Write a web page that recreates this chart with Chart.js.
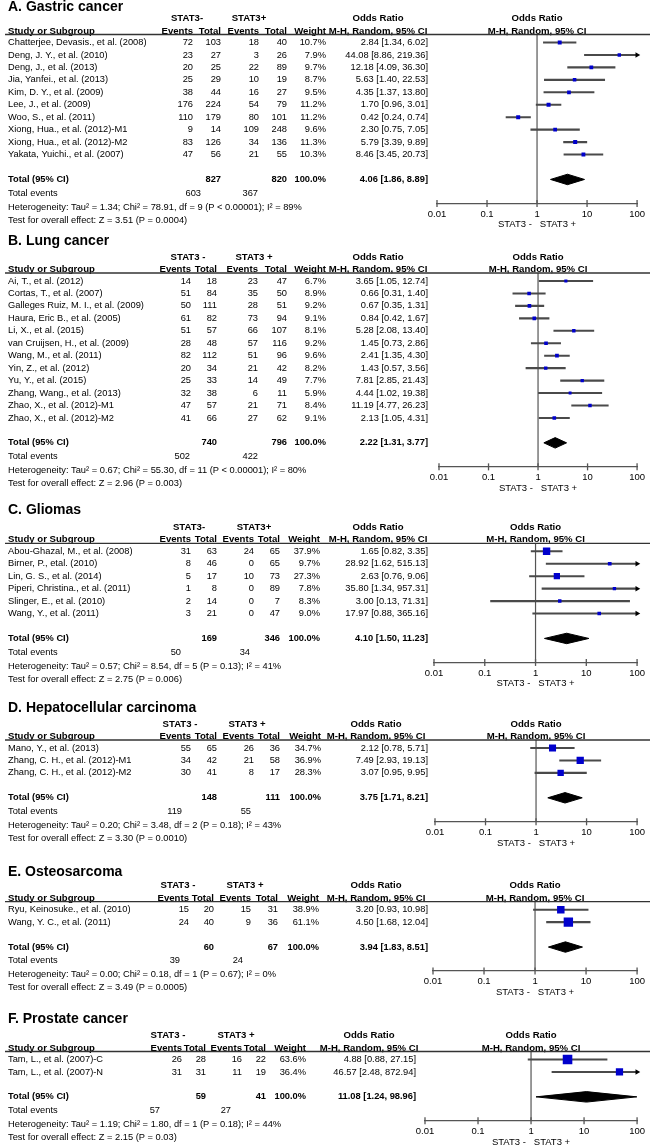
<!DOCTYPE html>
<html>
<head>
<meta charset="utf-8">
<script src="https://cdn.jsdelivr.net/npm/chart.js@4.4.1/dist/chart.umd.min.js"></script>
<style>
  html, body { margin: 0; padding: 0; background: #fff; }
  #page { position: relative; width: 650px; height: 1146px; overflow: hidden; }
  #page canvas { position: absolute; left: 0; }
</style>
</head>
<body>
<div id="page"></div>
<script>
const FONT = "'Liberation Sans', Arial, Helvetica, sans-serif";
const axisTicks = [0.01, 0.1, 1, 10, 100];
const axisTitle = 'STAT3 -   STAT3 +';

// rows: study, events-, total-, events+, total+, weight %, OR, lower, upper
const gastricRows = [
  ['Chatterjee, Devasis., et al. (2008)', 72, 103, 18, 40, 10.7, 2.84, 1.34, 6.02],
  ['Deng, J. Y., et al. (2010)', 23, 27, 3, 26, 7.9, 44.08, 8.86, 219.36],
  ['Deng, J., et al. (2013)', 20, 25, 22, 89, 9.7, 12.18, 4.09, 36.30],
  ['Jia, Yanfei., et al. (2013)', 25, 29, 10, 19, 8.7, 5.63, 1.40, 22.53],
  ['Kim, D. Y., et al. (2009)', 38, 44, 16, 27, 9.5, 4.35, 1.37, 13.80],
  ['Lee, J., et al. (2009)', 176, 224, 54, 79, 11.2, 1.70, 0.96, 3.01],
  ['Woo, S., et al. (2011)', 110, 179, 80, 101, 11.2, 0.42, 0.24, 0.74],
  ['Xiong, Hua., et al. (2012)-M1', 9, 14, 109, 248, 9.6, 2.30, 0.75, 7.05],
  ['Xiong, Hua., et al. (2012)-M2', 83, 126, 34, 136, 11.3, 5.79, 3.39, 9.89],
  ['Yakata, Yuichi., et al. (2007)', 47, 56, 21, 55, 10.3, 8.46, 3.45, 20.73]
];
// total-, total+, weight, OR, lower, upper
const gastricTotal = [827, 820, 100.0, 4.06, 1.86, 8.89];
const gastricEvents = [603, 367];
const gastricNotes = [
  'Heterogeneity: Tau\u00b2 = 1.34; Chi\u00b2 = 78.91, df = 9 (P < 0.00001); I\u00b2 = 89%',
  'Test for overall effect: Z = 3.51 (P = 0.0004)'
];

const lungRows = [
  ['Ai, T., et al. (2012)', 14, 18, 23, 47, 6.7, 3.65, 1.05, 12.74],
  ['Cortas, T., et al. (2007)', 51, 84, 35, 50, 8.9, 0.66, 0.31, 1.40],
  ['Galleges Ruiz, M. I., et al. (2009)', 50, 111, 28, 51, 9.2, 0.67, 0.35, 1.31],
  ['Haura, Eric B., et al. (2005)', 61, 82, 73, 94, 9.1, 0.84, 0.42, 1.67],
  ['Li, X., et al. (2015)', 51, 57, 66, 107, 8.1, 5.28, 2.08, 13.40],
  ['van Cruijsen, H., et al. (2009)', 28, 48, 57, 116, 9.2, 1.45, 0.73, 2.86],
  ['Wang, M., et al. (2011)', 82, 112, 51, 96, 9.6, 2.41, 1.35, 4.30],
  ['Yin, Z., et al. (2012)', 20, 34, 21, 42, 8.2, 1.43, 0.57, 3.56],
  ['Yu, Y., et al. (2015)', 25, 33, 14, 49, 7.7, 7.81, 2.85, 21.43],
  ['Zhang, Wang., et al. (2013)', 32, 38, 6, 11, 5.9, 4.44, 1.02, 19.38],
  ['Zhao, X., et al. (2012)-M1', 47, 57, 21, 71, 8.4, 11.19, 4.77, 26.23],
  ['Zhao, X., et al. (2012)-M2', 41, 66, 27, 62, 9.1, 2.13, 1.05, 4.31]
];
const lungTotal = [740, 796, 100.0, 2.22, 1.31, 3.77];
const lungEvents = [502, 422];
const lungNotes = [
  'Heterogeneity: Tau\u00b2 = 0.67; Chi\u00b2 = 55.30, df = 11 (P < 0.00001); I\u00b2 = 80%',
  'Test for overall effect: Z = 2.96 (P = 0.003)'
];

const gliomaRows = [
  ['Abou-Ghazal, M., et al. (2008)', 31, 63, 24, 65, 37.9, 1.65, 0.82, 3.35],
  ['Birner, P., etal. (2010)', 8, 46, 0, 65, 9.7, 28.92, 1.62, 515.13],
  ['Lin, G. S., et al. (2014)', 5, 17, 10, 73, 27.3, 2.63, 0.76, 9.06],
  ['Piperi, Christina., et al. (2011)', 1, 8, 0, 89, 7.8, 35.80, 1.34, 957.31],
  ['Slinger, E., et al. (2010)', 2, 14, 0, 7, 8.3, 3.00, 0.13, 71.31],
  ['Wang, Y., et al. (2011)', 3, 21, 0, 47, 9.0, 17.97, 0.88, 365.16]
];
const gliomaTotal = [169, 346, 100.0, 4.10, 1.50, 11.23];
const gliomaEvents = [50, 34];
const gliomaNotes = [
  'Heterogeneity: Tau\u00b2 = 0.57; Chi\u00b2 = 8.54, df = 5 (P = 0.13); I\u00b2 = 41%',
  'Test for overall effect: Z = 2.75 (P = 0.006)'
];

const liverRows = [
  ['Mano, Y., et al. (2013)', 55, 65, 26, 36, 34.7, 2.12, 0.78, 5.71],
  ['Zhang, C. H., et al. (2012)-M1', 34, 42, 21, 58, 36.9, 7.49, 2.93, 19.13],
  ['Zhang, C. H., et al. (2012)-M2', 30, 41, 8, 17, 28.3, 3.07, 0.95, 9.95]
];
const liverTotal = [148, 111, 100.0, 3.75, 1.71, 8.21];
const liverEvents = [119, 55];
const liverNotes = [
  'Heterogeneity: Tau\u00b2 = 0.20; Chi\u00b2 = 3.48, df = 2 (P = 0.18); I\u00b2 = 43%',
  'Test for overall effect: Z = 3.30 (P = 0.0010)'
];

const boneRows = [
  ['Ryu, Keinosuke., et al. (2010)', 15, 20, 15, 31, 38.9, 3.20, 0.93, 10.98],
  ['Wang, Y. C., et al. (2011)', 24, 40, 9, 36, 61.1, 4.50, 1.68, 12.04]
];
const boneTotal = [60, 67, 100.0, 3.94, 1.83, 8.51];
const boneEvents = [39, 24];
const boneNotes = [
  'Heterogeneity: Tau\u00b2 = 0.00; Chi\u00b2 = 0.18, df = 1 (P = 0.67); I\u00b2 = 0%',
  'Test for overall effect: Z = 3.49 (P = 0.0005)'
];

const prostateRows = [
  ['Tam, L., et al. (2007)-C', 26, 28, 16, 22, 63.6, 4.88, 0.88, 27.15],
  ['Tam, L., et al. (2007)-N', 31, 31, 11, 19, 36.4, 46.57, 2.48, 872.94]
];
const prostateTotal = [59, 41, 100.0, 11.08, 1.24, 98.96];
const prostateEvents = [57, 27];
const prostateNotes = [
  'Heterogeneity: Tau\u00b2 = 1.19; Chi\u00b2 = 1.80, df = 1 (P = 0.18); I\u00b2 = 44%',
  'Test for overall effect: Z = 2.15 (P = 0.03)'
];

// page layout for each panel (pixels)
const panels = [
  { title: 'A. Gastric cancer', groups: ['STAT3-', 'STAT3+'], rows: gastricRows, total: gastricTotal, events: gastricEvents, notes: gastricNotes,
    box: { top: 0, title: 7.5, rule: 34.5, left: 437, right: 641, cols: [193, 221, 259, 287, 326, 428], groupX: [187, 249], eventsX: [201, 258], orX: 378 } },
  { title: 'B. Lung cancer', groups: ['STAT3 -', 'STAT3 +'], rows: lungRows, total: lungTotal, events: lungEvents, notes: lungNotes,
    box: { top: 231, title: 241, rule: 273, left: 439, right: 641, cols: [191, 217, 258, 287, 326, 428], groupX: [188, 254], eventsX: [190, 258], orX: 378 } },
  { title: 'C. Gliomas', groups: ['STAT3-', 'STAT3+'], rows: gliomaRows, total: gliomaTotal, events: gliomaEvents, notes: gliomaNotes,
    box: { top: 500, title: 510, rule: 543.3, left: 434, right: 640, cols: [191, 217, 254, 280, 320, 428], groupX: [189, 254], eventsX: [181, 250], orX: 378 } },
  { title: 'D. Hepatocellular carcinoma', groups: ['STAT3 -', 'STAT3 +'], rows: liverRows, total: liverTotal, events: liverEvents, notes: liverNotes,
    box: { top: 698, title: 708.3, rule: 740, left: 435, right: 640, cols: [191, 217, 254, 280, 321, 428], groupX: [180, 247], eventsX: [182, 251], orX: 376 } },
  { title: 'E. Osteosarcoma', groups: ['STAT3 -', 'STAT3 +'], rows: boneRows, total: boneTotal, events: boneEvents, notes: boneNotes,
    box: { top: 861, title: 871.7, rule: 901.7, left: 433, right: 640, cols: [189, 214, 251, 278, 319, 428], groupX: [178, 245], eventsX: [180, 243], orX: 376 } },
  { title: 'F. Prostate cancer', groups: ['STAT3 -', 'STAT3 +'], rows: prostateRows, total: prostateTotal, events: prostateEvents, notes: prostateNotes,
    box: { top: 1009, title: 1019.5, rule: 1051.5, left: 425, right: 640, cols: [182, 206, 242, 266, 306, 416], groupX: [168, 236], eventsX: [160, 231], orX: 369 } }
];

const PITCH = 12.45;     // row height
const AXIS_H = 27;       // height of x axis box
const BLUE = '#0000cc';
const LINE = '#4a4a4a';

const orText = (or, lo, hi) => `${or.toFixed(2)} [${lo.toFixed(2)}, ${hi.toFixed(2)}]`;

function tablePlugin(p) {
  return {
    id: 'table',
    afterDraw(chart) {
      const ctx = chart.ctx, b = p.box;
      const ys = chart.scales.y, xs = chart.scales.x;
      const top = chart.chartArea.top;
      const x1 = xs.getPixelForValue(1);
      const text = (s, x, y, align, bold, size) => {
        ctx.font = `${bold ? 'bold ' : ''}${size || 9.3}px ${FONT}`;
        ctx.textAlign = align;
        ctx.fillText(s, x, y);
      };
      ctx.save();
      ctx.fillStyle = '#000';
      ctx.textBaseline = 'middle';

      text(p.title, 8, b.title - b.top, 'left', true, 14);

      const h1 = top - 16, h2 = top - 3.5;
      text(p.groups[0], b.groupX[0], h1, 'center', true, 9.6);
      text(p.groups[1], b.groupX[1], h1, 'center', true, 9.6);
      text('Odds Ratio', b.orX, h1, 'center', true, 9.6);
      text('Odds Ratio', x1, h1, 'center', true, 9.6);
      text('Study or Subgroup', 8, h2, 'left', true, 9.6);
      ['Events', 'Total', 'Events', 'Total', 'Weight'].forEach((s, k) => text(s, b.cols[k], h2, 'right', true, 9.6));
      text('M-H, Random, 95% CI', b.orX, h2, 'center', true, 9.6);
      text('M-H, Random, 95% CI', x1, h2, 'center', true, 9.6);

      ctx.strokeStyle = '#333';
      ctx.lineWidth = 1.3;
      ctx.beginPath();
      ctx.moveTo(5, top);
      ctx.lineTo(650, top);
      ctx.stroke();

      p.rows.forEach((r, i) => {
        const y = ys.getPixelForValue(i);
        text(r[0], 8, y, 'left');
        for (let k = 0; k < 4; k++) text(String(r[k + 1]), b.cols[k], y, 'right');
        text(r[5].toFixed(1) + '%', b.cols[4], y, 'right');
        text(orText(r[6], r[7], r[8]), b.cols[5], y, 'right');
      });

      const t = p.total;
      const ty = ys.getPixelForValue(p.rows.length + 1);
      text('Total (95% CI)', 8, ty, 'left', true);
      text(String(t[0]), b.cols[1], ty, 'right', true);
      text(String(t[1]), b.cols[3], ty, 'right', true);
      text(t[2].toFixed(1) + '%', b.cols[4], ty, 'right', true);
      text(orText(t[3], t[4], t[5]), b.cols[5], ty, 'right', true);

      text('Total events', 8, ty + 13.5, 'left');
      text(String(p.events[0]), b.eventsX[0], ty + 13.5, 'right');
      text(String(p.events[1]), b.eventsX[1], ty + 13.5, 'right');
      text(p.notes[0], 8, ty + 27.5, 'left');
      text(p.notes[1], 8, ty + 40.5, 'left');
      ctx.restore();
    }
  };
}

const page = document.getElementById('page');

panels.forEach(p => {
  const b = p.box, n = p.rows.length;
  const totalRow = n + 1;
  const yMin = -8 / PITCH;
  const yMax = totalRow + 24 / PITCH;
  const axisY = b.rule + (yMax - yMin) * PITCH;
  const xMax = axisTicks[axisTicks.length - 1];

  const canvas = document.createElement('canvas');
  canvas.width = 650;
  canvas.height = Math.ceil(axisY - b.top + AXIS_H + 2);
  canvas.style.top = b.top + 'px';
  page.appendChild(canvas);

  const t = p.total, dh = 0.42;

  new Chart(canvas, {
    type: 'scatter',
    data: {
      datasets: [
        { // confidence intervals
          type: 'bar', indexAxis: 'y', order: 4,
          data: p.rows.map((r, i) => ({ y: i, x: [r[7], r[8]] })),
          backgroundColor: LINE, borderWidth: 0, barThickness: 1.4
        },
        { // study estimates
          type: 'scatter', order: 1,
          data: p.rows.map((r, i) => ({ x: r[6], y: i })),
          pointStyle: 'rect',
          pointRadius: p.rows.map(r => 1.2 * Math.sqrt(r[5]) / Math.SQRT2),
          backgroundColor: BLUE, borderColor: BLUE, borderWidth: 0
        },
        { // arrows for intervals beyond the axis
          type: 'scatter', order: 2, clip: false,
          data: p.rows.map((r, i) => r[8] > xMax ? { x: xMax, y: i } : null).filter(Boolean),
          pointStyle: 'triangle', rotation: 90, pointRadius: 3.2,
          backgroundColor: '#000', borderColor: '#000', borderWidth: 0
        },
        { // pooled diamond
          type: 'line', order: 3,
          data: [
            { x: t[4], y: totalRow }, { x: t[3], y: totalRow - dh },
            { x: t[5], y: totalRow }, { x: t[3], y: totalRow + dh },
            { x: t[4], y: totalRow }
          ],
          fill: 'shape', backgroundColor: '#000', borderColor: '#000',
          borderWidth: 1, pointRadius: 0, tension: 0
        },
        { // line of no effect
          type: 'line', order: 5,
          data: [{ x: 1, y: yMin }, { x: 1, y: yMax }],
          borderColor: '#555', borderWidth: 1.2, pointRadius: 0, fill: false
        },
        { // axis tick marks
          type: 'scatter', order: 6, clip: false,
          data: axisTicks.map(v => ({ x: v, y: yMax })),
          pointStyle: 'line', rotation: 90, pointRadius: 3.5,
          borderColor: '#555', borderWidth: 1.3
        }
      ]
    },
    options: {
      responsive: false,
      animation: false,
      events: [],
      layout: {
        padding: {
          top: b.rule - b.top,
          left: b.left,
          right: 650 - b.right,
          bottom: canvas.height - (axisY - b.top) - AXIS_H
        }
      },
      plugins: { legend: { display: false }, tooltip: { enabled: false } },
      scales: {
        x: {
          type: 'logarithmic', min: axisTicks[0], max: xMax, position: 'bottom', offset: false,
          afterBuildTicks: s => { s.ticks = axisTicks.map(v => ({ value: v })); },
          afterFit: s => { s.height = AXIS_H; },
          grid: { display: false, drawTicks: false },
          border: { display: true, color: '#555', width: 1.3 },
          ticks: {
            padding: 5, color: '#000', autoSkip: false, maxRotation: 0,
            font: { family: FONT, size: 9.5 },
            callback: v => String(v)
          },
          title: {
            display: true, text: axisTitle, color: '#000',
            font: { family: FONT, size: 9.5 }, padding: { top: 0, bottom: 0 }
          }
        },
        y: { type: 'linear', reverse: true, min: yMin, max: yMax, offset: false, bounds: 'data', display: false }
      }
    },
    plugins: [tablePlugin(p)]
  });
});
</script>
</body>
</html>
